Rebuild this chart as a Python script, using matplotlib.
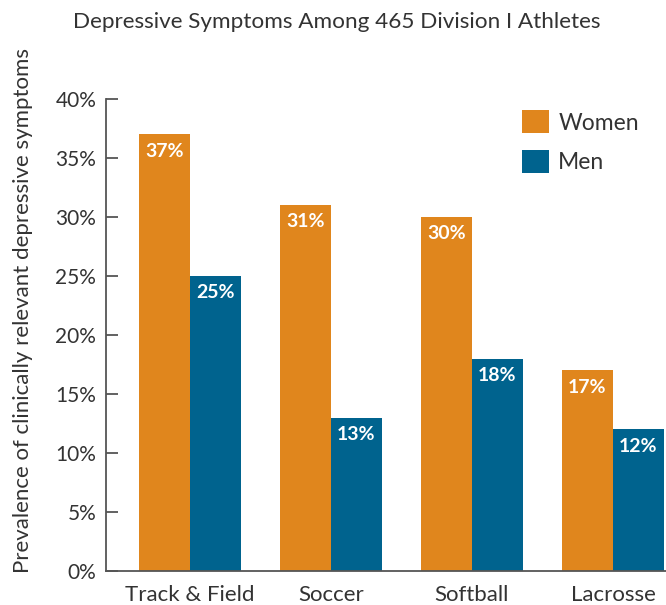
import matplotlib
matplotlib.use("Agg")
import matplotlib.pyplot as plt
import numpy as np

# datos
sports = ["Track & Field", "Soccer", "Softball", "Lacrosse"]
women = [37, 31, 30, 17]
men = [25, 13, 18, 12]
yticks = [0, 5, 10, 15, 20, 25, 30, 35, 40]

orange = "#E0861D"
blue = "#00638E"
grey = "#333333"

plt.rcParams["font.family"] = ["Lato", "DejaVu Sans"]

fig = plt.figure(figsize=(6.66, 6.05), dpi=100)
ax = fig.add_axes([0.159, 0.0562, 0.841, 0.7802])

x = np.arange(len(sports))
w = 0.362
b1 = ax.bar(x - w / 2, women, w, color=orange, label="Women")
b2 = ax.bar(x + w / 2, men, w, color=blue, label="Men")

for bars, vals in ((b1, women), (b2, men)):
    for r, v in zip(bars, vals):
        ax.text(r.get_x() + r.get_width() / 2, v - 0.7, f"{v}%", ha="center", va="top",
                color="white", fontsize=14, fontweight="bold")

ax.set_xlim(-0.596, 3.376)
ax.set_ylim(0, 40)
ax.set_yticks(yticks)
ax.set_yticklabels([f"{t}%" for t in yticks])
ax.set_xticks(x)
ax.set_xticklabels(sports)

ax.tick_params(axis="y", direction="in", length=8.6, width=1.3, color="#555555",
               labelsize=15, labelcolor=grey, pad=7)
ax.tick_params(axis="x", length=0, labelsize=16, labelcolor=grey, pad=10)

for s in ("top", "right"):
    ax.spines[s].set_visible(False)
for s in ("left", "bottom"):
    ax.spines[s].set_color("#555555")
    ax.spines[s].set_linewidth(1.3)

ax.set_ylabel("Prevalence of clinically relevant depressive symptoms", fontsize=16,
              color=grey)
ax.yaxis.set_label_coords(-0.13, 0.551)
fig.text(0.505, 0.964, "Depressive Symptoms Among 465 Division I Athletes", ha="center",
         va="center", fontsize=16.2, color=grey)

leg = ax.legend(loc="upper left", bbox_to_anchor=(0.743, 0.976), frameon=False, fontsize=16.5,
                handlelength=1.18, handleheight=1.18, labelspacing=0.72, handletextpad=0.4,
                borderpad=0, borderaxespad=0)
for t in leg.get_texts():
    t.set_color(grey)

fig.savefig("out.png", dpi=100)
